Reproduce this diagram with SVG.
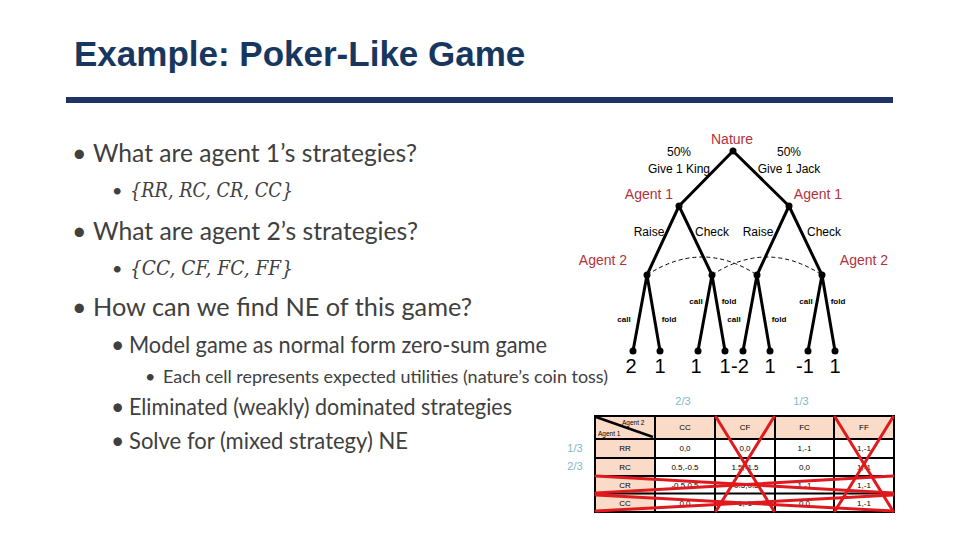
<svg xmlns="http://www.w3.org/2000/svg" width="960" height="540" viewBox="0 0 960 540">
<style>
.title{font-family:"Liberation Sans",Arial,sans-serif;font-weight:bold;font-size:35px;fill:#17375E}
.b1{font-family:Lato,"Open Sans",sans-serif;font-size:25px;fill:#404040}
.b2{font-family:Lato,"Open Sans",sans-serif;font-size:23px;fill:#404040}
.b3{font-family:Lato,"Open Sans",sans-serif;font-size:18px;fill:#404040}
.math{font-family:"DejaVu Serif","Liberation Serif",serif;font-style:italic;font-size:21px;fill:#404040}
.lbl{font-family:"Liberation Sans",Arial,sans-serif;font-size:12px;fill:#000;text-anchor:middle}
.red{font-family:"Liberation Sans",Arial,sans-serif;font-size:14px;fill:#B2323C;text-anchor:middle}
.cf{font-family:"Liberation Sans",Arial,sans-serif;font-size:8px;font-weight:bold;fill:#000;text-anchor:middle}
.pay{font-family:"Liberation Sans",Arial,sans-serif;font-size:20px;fill:#000;text-anchor:middle}
.prob{font-family:"Liberation Sans",Arial,sans-serif;font-size:11px;fill:#7FB8CC;text-anchor:middle}
.tt{font-family:"Liberation Sans",Arial,sans-serif;font-size:8px;fill:#000;text-anchor:middle}
.ts{font-family:"Liberation Sans",Arial,sans-serif;font-size:6.5px;fill:#000}
.edge{stroke:#000;stroke-width:3;fill:none;stroke-linecap:round}
.info{stroke:#000;stroke-width:1;stroke-dasharray:4,3;fill:none}
.dot{fill:#000}
.hdr{fill:#FADBC8}
.grid{stroke:#000;stroke-width:2;fill:none}
.x{stroke:#E0191E;stroke-width:3;stroke-linecap:round}
</style>

<text class="title" x="74" y="66">Example: Poker-Like Game</text>
<rect x="66" y="97" width="827" height="6" fill="#213264"/>

<g id="bullets">
<text class="b1" x="72" y="162">•</text>
<text class="b1" x="93" y="162" textLength="324" lengthAdjust="spacingAndGlyphs">What are agent 1’s strategies?</text>
<text class="b3" x="112" y="197">•</text>
<text class="math" x="130" y="197" textLength="163" lengthAdjust="spacingAndGlyphs">{RR, RC, CR, CC}</text>
<text class="b1" x="72" y="240">•</text>
<text class="b1" x="93" y="240" textLength="325" lengthAdjust="spacingAndGlyphs">What are agent 2’s strategies?</text>
<text class="b3" x="112" y="275">•</text>
<text class="math" x="130" y="275" textLength="163" lengthAdjust="spacingAndGlyphs">{CC, CF, FC, FF}</text>
<text class="b1" x="72" y="316">•</text>
<text class="b1" x="93" y="316" textLength="379" lengthAdjust="spacingAndGlyphs">How can we find NE of this game?</text>
<text class="b2" x="111" y="353">•</text>
<text class="b2" x="129" y="353" textLength="418" lengthAdjust="spacingAndGlyphs">Model game as normal form zero-sum game</text>
<text class="b3" x="145" y="383">•</text>
<text class="b3" x="163" y="383" textLength="445" lengthAdjust="spacingAndGlyphs">Each cell represents expected utilities (nature’s coin toss)</text>
<text class="b2" x="111" y="415">•</text>
<text class="b2" x="129" y="415" textLength="383" lengthAdjust="spacingAndGlyphs">Eliminated (weakly) dominated strategies</text>
<text class="b2" x="111" y="449">•</text>
<text class="b2" x="129" y="449" textLength="279" lengthAdjust="spacingAndGlyphs">Solve for (mixed strategy) NE</text>
</g>

<g id="connectors">
<line class="edge" x1="733" y1="151" x2="679" y2="206"/>
<line class="edge" x1="733" y1="151" x2="789" y2="206"/>
<line class="edge" x1="679" y1="206" x2="647" y2="275"/>
<line class="edge" x1="679" y1="206" x2="712" y2="275"/>
<line class="edge" x1="789" y1="206" x2="757" y2="275"/>
<line class="edge" x1="789" y1="206" x2="822" y2="275"/>
<line class="edge" x1="647" y1="275" x2="633" y2="351"/>
<line class="edge" x1="647" y1="275" x2="660" y2="351"/>
<line class="edge" x1="712" y1="275" x2="698" y2="351"/>
<line class="edge" x1="712" y1="275" x2="725" y2="351"/>
<line class="edge" x1="757" y1="275" x2="743" y2="351"/>
<line class="edge" x1="757" y1="275" x2="770" y2="351"/>
<line class="edge" x1="822" y1="275" x2="808" y2="351"/>
<line class="edge" x1="822" y1="275" x2="835" y2="351"/>
<path class="info" d="M647,275 Q702,239 757,275"/>
<path class="info" d="M712,275 Q767,239 822,275"/>
<text class="lbl" x="679" y="156">50%</text>
<text class="lbl" x="679" y="173">Give 1 King</text>
<text class="lbl" x="789" y="156">50%</text>
<text class="lbl" x="789" y="173">Give 1 Jack</text>
<text class="lbl" x="649" y="236">Raise</text>
<text class="lbl" x="712" y="236">Check</text>
<text class="lbl" x="758" y="236">Raise</text>
<text class="lbl" x="824" y="236">Check</text>
<text class="cf" x="624" y="322">call</text>
<text class="cf" x="669" y="322">fold</text>
<text class="cf" x="696" y="304">call</text>
<text class="cf" x="729" y="304">fold</text>
<text class="cf" x="734" y="322">call</text>
<text class="cf" x="779" y="322">fold</text>
<text class="cf" x="806" y="304">call</text>
<text class="cf" x="838" y="304">fold</text>
</g>

<g id="nature"><circle class="dot" cx="733" cy="151" r="3.5"/><text class="red" x="732" y="144">Nature</text></g>
<g id="agent1-king"><circle class="dot" cx="679" cy="206" r="3.5"/><text class="red" x="649" y="199">Agent 1</text></g>
<g id="agent1-jack"><circle class="dot" cx="789" cy="206" r="3.5"/><text class="red" x="818" y="199">Agent 1</text></g>
<g id="agent2-kr"><circle class="dot" cx="647" cy="275" r="3.5"/><text class="red" x="603" y="265">Agent 2</text></g>
<g id="agent2-kc"><circle class="dot" cx="712" cy="275" r="3.5"/></g>
<g id="agent2-jr"><circle class="dot" cx="757" cy="275" r="3.5"/></g>
<g id="agent2-jc"><circle class="dot" cx="822" cy="275" r="3.5"/><text class="red" x="864" y="265">Agent 2</text></g>
<g id="leaf1"><circle class="dot" cx="633" cy="351" r="3.5"/><text class="pay" x="631" y="373">2</text></g>
<g id="leaf2"><circle class="dot" cx="660" cy="351" r="3.5"/><text class="pay" x="660" y="373">1</text></g>
<g id="leaf3"><circle class="dot" cx="698" cy="351" r="3.5"/><text class="pay" x="696" y="373">1</text></g>
<g id="leaf4"><circle class="dot" cx="725" cy="351" r="3.5"/><text class="pay" x="725" y="373">1</text></g>
<g id="leaf5"><circle class="dot" cx="743" cy="351" r="3.5"/><text class="pay" x="740" y="373">-2</text></g>
<g id="leaf6"><circle class="dot" cx="770" cy="351" r="3.5"/><text class="pay" x="770" y="373">1</text></g>
<g id="leaf7"><circle class="dot" cx="808" cy="351" r="3.5"/><text class="pay" x="805" y="373">-1</text></g>
<g id="leaf8"><circle class="dot" cx="835" cy="351" r="3.5"/><text class="pay" x="835" y="373">1</text></g>

<g id="probs">
<text class="prob" x="683" y="405">2/3</text>
<text class="prob" x="801" y="405">1/3</text>
<text class="prob" x="575" y="452">1/3</text>
<text class="prob" x="575" y="470">2/3</text>
</g>

<g id="table">
<rect class="hdr" x="595" y="416" width="299" height="23"/>
<rect class="hdr" x="595" y="439" width="60" height="73"/>
<rect x="655" y="439" width="239" height="73" fill="#fff"/>
<path class="grid" d="M595,416H894V512H595Z M655,416V512 M715,416V512 M775,416V512 M834,416V512 M595,439H894 M595,458H894 M595,476H894 M595,493.5H894"/>
<line x1="596" y1="417" x2="653" y2="437" stroke="#000" stroke-width="2.5"/>
<text class="ts" x="622" y="425">Agent 2</text>
<text class="ts" x="598" y="436">Agent 1</text>
<text class="tt" x="685" y="430">CC</text>
<text class="tt" x="745" y="430">CF</text>
<text class="tt" x="804.5" y="430">FC</text>
<text class="tt" x="864" y="430">FF</text>
<text class="tt" x="625" y="451">RR</text>
<text class="tt" x="625" y="470">RC</text>
<text class="tt" x="625" y="487.5">CR</text>
<text class="tt" x="625" y="505.5">CC</text>
<text class="tt" x="685" y="451">0,0</text>
<text class="tt" x="745" y="451">0,0</text>
<text class="tt" x="804.5" y="451">1,-1</text>
<text class="tt" x="864" y="451">1,-1</text>
<text class="tt" x="685" y="470">0.5,-0.5</text>
<text class="tt" x="745" y="470">1.5,-1.5</text>
<text class="tt" x="804.5" y="470">0,0</text>
<text class="tt" x="864" y="470">1,-1</text>
<text class="tt" x="685" y="487.5">-0.5,0.5</text>
<text class="tt" x="745" y="487.5">-0.5,0.5</text>
<text class="tt" x="804.5" y="487.5">1,-1</text>
<text class="tt" x="864" y="487.5">1,-1</text>
<text class="tt" x="685" y="505.5">0,0</text>
<text class="tt" x="745" y="505.5">1,-1</text>
<text class="tt" x="804.5" y="505.5">0,0</text>
<text class="tt" x="864" y="505.5">1,-1</text>
<line class="x" x1="716" y1="417" x2="774" y2="511"/>
<line class="x" x1="774" y1="417" x2="716" y2="511"/>
<line class="x" x1="835" y1="417" x2="893" y2="511"/>
<line class="x" x1="893" y1="417" x2="835" y2="511"/>
<line class="x" x1="596" y1="476" x2="893" y2="493"/>
<line class="x" x1="596" y1="493" x2="893" y2="476"/>
<line class="x" x1="596" y1="495" x2="893" y2="511"/>
<line class="x" x1="596" y1="511" x2="893" y2="495"/>
</g>
</svg>
